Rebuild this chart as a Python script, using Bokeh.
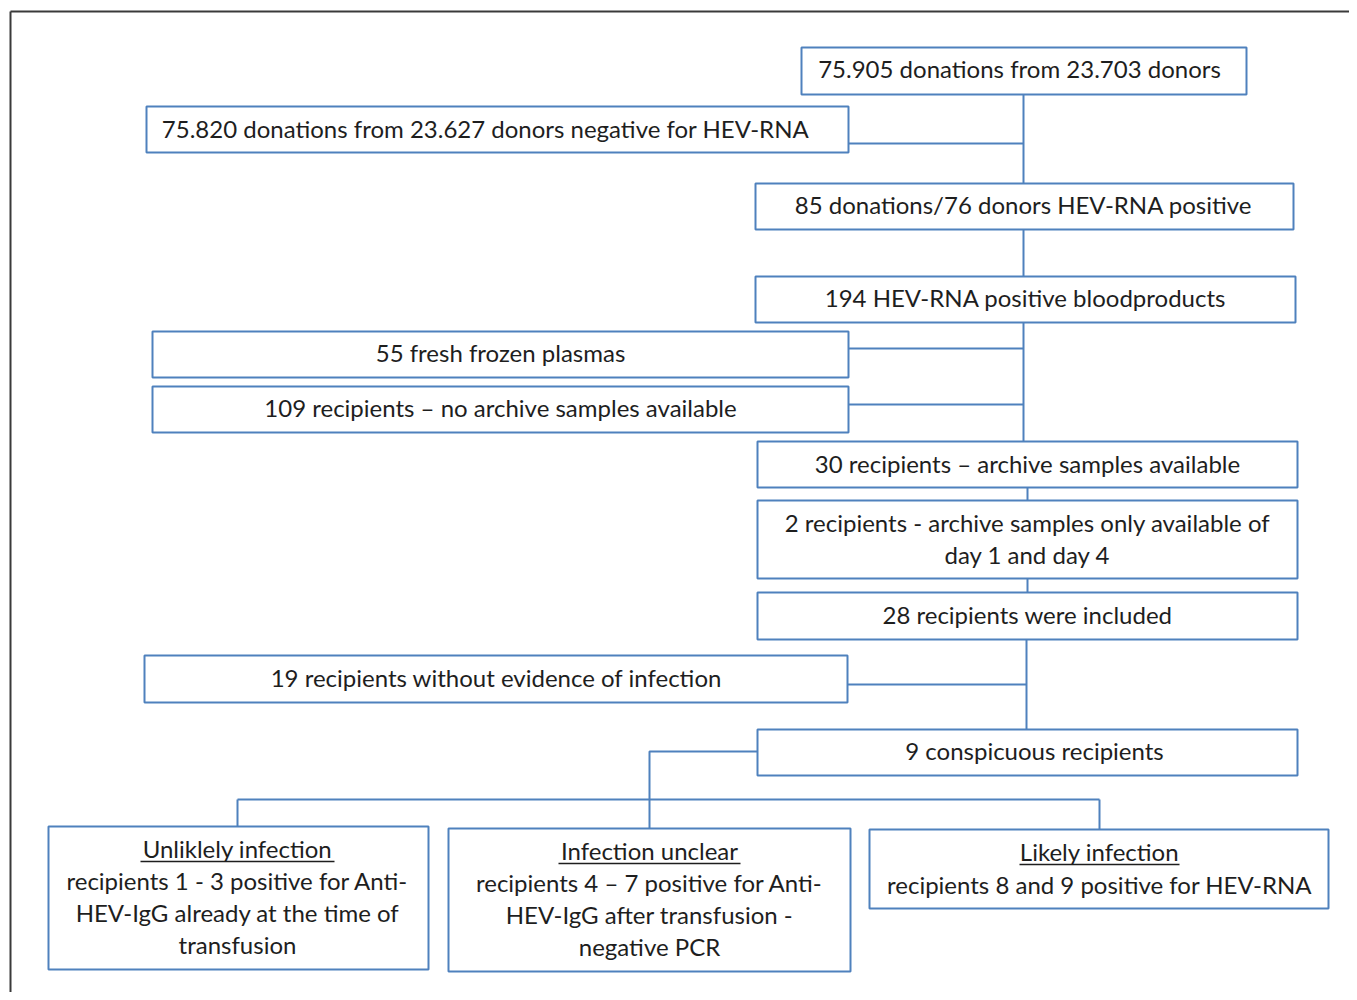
from bokeh.plotting import figure
from bokeh.models import Range1d
from bokeh.core.properties import value
from bokeh.embed import file_html
from bokeh.resources import INLINE

# ---- content ----
box_labels = [
    ["75.905 donations from 23.703 donors"],
    ["75.820 donations from 23.627 donors negative for HEV-RNA"],
    ["85 donations/76 donors HEV-RNA positive"],
    ["194 HEV-RNA positive bloodproducts"],
    ["55 fresh frozen plasmas"],
    ["109 recipients \u2013 no archive samples available"],
    ["30 recipients \u2013 archive samples available"],
    ["2 recipients - archive samples only available of", "day 1 and day 4"],
    ["28 recipients were included"],
    ["19 recipients without evidence of infection"],
    ["9 conspicuous recipients"],
    ["Unliklely infection", "recipients 1 - 3 positive for Anti-", "HEV-IgG already at the time of", "transfusion"],
    ["Infection unclear", "recipients 4 \u2013 7 positive for Anti-", "HEV-IgG after transfusion -", "negative PCR"],
    ["Likely infection", "recipients 8 and 9 positive for HEV-RNA"],
]
underlined_title = [False]*11 + [True, True, True]

# ---- layout (page pixel coordinates) ----
box_left   = [801, 146, 755, 755, 152, 152, 757, 757, 757, 144, 757,  48, 448, 869]
box_right  = [1246, 848, 1293, 1295, 848, 848, 1297, 1297, 1297, 847, 1297, 428, 850, 1328]
box_top    = [47, 106, 183, 276, 331, 386, 441, 500, 592, 655, 729, 826, 828, 829]
box_bottom = [94, 152, 229, 322, 377, 432, 487, 578, 639, 702, 775, 969, 971, 908]
text_cx    = [1019, 485, 1023, 1025, 500, 500, 1027, 1027, 1027, 496, 1034, 237, 649, 1099]
text_y0    = [68, 128, 204, 297, 352, 407, 463, 522, 614, 677, 750, 848, 850, 851]
line_step  = [0, 0, 0, 0, 0, 0, 0, 32, 0, 0, 0, 32, 32, 33]
underline_half = [0]*11 + [97, 91, 80]

connectors = [
    ([1023, 1023], [94, 183]),
    ([848, 1023], [143, 143]),
    ([1023, 1023], [229, 276]),
    ([1023, 1023], [322, 441]),
    ([848, 1023], [348, 348]),
    ([848, 1023], [404, 404]),
    ([1027, 1027], [487, 500]),
    ([1027, 1027], [578, 592]),
    ([1026, 1026], [639, 729]),
    ([847, 1026], [684, 684]),
    ([757, 649, 649], [751, 751, 828]),
    ([237, 1099], [799, 799]),
    ([237, 237], [799, 826]),
    ([1099, 1099], [799, 829]),
]

W, H = 1349, 992
BLUE = "#4f81bd"
FONT = "Lato"
FS = "24px"

p = figure(width=W, height=H, output_backend="svg", toolbar_location=None,
           x_range=Range1d(0, W), y_range=Range1d(H, 0),
           min_border=0, outline_line_color=None)
p.axis.visible = False
p.grid.visible = False
p.background_fill_color = "white"

# outer frame (top and left edges)
p.line([10, W], [11, 11], line_color="#3a3a3a", line_width=2)
p.line([10, 10], [11, H], line_color="#3a3a3a", line_width=2)

for xs, ys in connectors:
    p.line(xs, ys, line_color=BLUE, line_width=2)

p.quad(left=box_left, right=box_right, top=box_top, bottom=box_bottom,
       fill_color="white", line_color=BLUE, line_width=2)

tx, ty, tt = [], [], []
for i, lines in enumerate(box_labels):
    for j, s in enumerate(lines):
        tx.append(text_cx[i])
        ty.append(text_y0[i] + j * line_step[i])
        tt.append(s)
p.text(x=tx, y=ty, text=tt, text_align="center", text_baseline="middle",
       text_font=value(FONT), text_font_size=FS, text_color="#1e1e1e")

for i, u in enumerate(underlined_title):
    if u:
        yy = text_y0[i] + 13
        p.line([text_cx[i] - underline_half[i], text_cx[i] + underline_half[i]], [yy, yy],
               line_color="#1e1e1e", line_width=1.3)

open("out.html", "w").write(file_html(p, INLINE))
